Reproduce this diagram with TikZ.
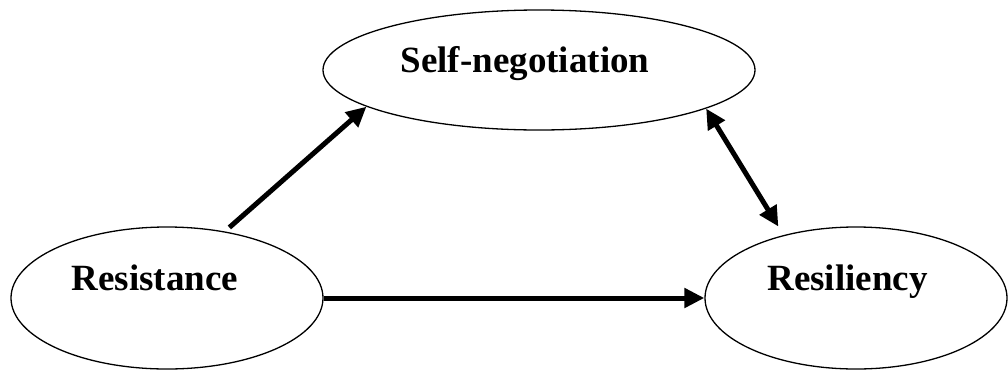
\documentclass[tikz,border=0pt]{standalone}
\usepackage{fontspec}
\setmainfont{Liberation Serif}
\usetikzlibrary{shapes.geometric,arrows.meta}
\begin{document}
\begin{tikzpicture}[x=1pt,y=-1pt,
		oval/.style={draw,ellipse,line width=1.3pt,inner sep=0pt},
		fett/.style={font=\fontsize{37}{40}\selectfont\bfseries,anchor=base,inner sep=0pt},
		pfeil/.style={line width=5pt,>={Triangle[length=20pt,width=19pt]},->}]
		\useasboundingbox (0,0) rectangle (1008,370);
		% Ellipsen
		\node[oval,minimum width=432pt,minimum height=120pt] (self) at (539,70) {};
		\node[oval,minimum width=312pt,minimum height=142pt] (resist) at (167,298) {};
		\node[oval,minimum width=302pt,minimum height=142pt] (resil) at (856,298) {};
		% Beschriftungen
		\node[fett] (selftxt) at (525,72) {Self-negotiation};
		\node[fett] (resisttxt) at (155,290) {Resistance};
		\node[fett] (resiltxt) at (847.5,290) {Resiliency};
		% Pfeile
		\draw[pfeil,shorten <=6pt] (resist.49.7) -- (self.192.4);
		\draw[pfeil] (resist.east) -- (resil.west);
		\draw[pfeil,<->,shorten >=10pt] (self.347.6) -- (resil.139.7);
	\end{tikzpicture}
\end{document}
